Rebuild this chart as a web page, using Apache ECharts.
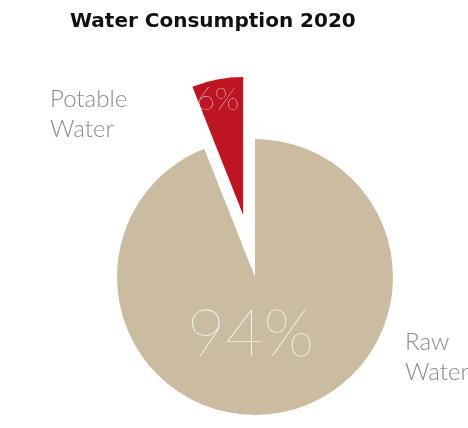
<!DOCTYPE html>
<html>
<head>
<meta charset="utf-8">
<script src="https://cdn.jsdelivr.net/npm/echarts@6/dist/echarts.min.js"></script>
<style>
  html, body { margin: 0; padding: 0; background: #fff; }
  #chart { width: 468px; height: 428px; }
</style>
</head>
<body>
<div id="chart"></div>
<script>
// Water consumption share by type, 2020
const categories = ['Raw Water', 'Potable Water'];
const shares = [94, 6];
const colors = ['#CBBBA0', '#BD1622'];

const CENTER = [255, 277];
const RADIUS = 138;

const chart = echarts.init(document.getElementById('chart'));

const sliceData = categories.map((name, i) => ({
  name: name,
  value: shares[i],
  selected: i === 1,
  itemStyle: { color: colors[i] }
}));

// Positions of the category names beside the pie
const namePos = [
  { x: 405, y: 357, align: 'left' },
  { x: 50, y: 114, align: 'left' }
];
// Nudges for the percentage labels inside the slices
const pctShift = [
  { dx: -18, dy: -13 },
  { dx: -12, dy: -45 }
];

chart.setOption({
  animation: false,
  title: {
    text: 'Water Consumption 2020',
    left: 65,
    top: 7,
    textStyle: {
      fontFamily: 'DejaVu Sans',
      fontWeight: 'bold',
      fontSize: 20,
      color: '#111'
    }
  },
  series: [
    {
      type: 'pie',
      center: CENTER,
      radius: [0, RADIUS],
      startAngle: 90,
      clockwise: true,
      selectedMode: 'single',
      selectedOffset: 63,
      silent: true,
      data: sliceData.map((d, i) => Object.assign({}, d, {
        label: {
          fontSize: i === 0 ? 66 : 32
        }
      })),
      label: {
        show: true,
        position: 'inside',
        formatter: (p) => p.value + '%',
        color: '#fff',
        fontFamily: 'Lato',
        fontWeight: 100
      },
      labelLine: { show: false },
      labelLayout: (p) => pctShift[p.dataIndex]
    },
    {
      // names of the slices, placed beside the pie
      type: 'pie',
      center: CENTER,
      radius: [0, RADIUS],
      startAngle: 90,
      silent: true,
      z: 1,
      data: categories.map((name, i) => ({ name: name, value: shares[i] })),
      itemStyle: { color: 'rgba(0,0,0,0)' },
      label: {
        show: true,
        position: 'outside',
        formatter: (p) => p.name.replace(' ', '\n'),
        color: '#8c8c8c',
        fontFamily: 'Lato',
        fontWeight: 300,
        fontSize: 24,
        lineHeight: 30
      },
      labelLine: { show: false },
      labelLayout: (p) => ({
        x: namePos[p.dataIndex].x,
        y: namePos[p.dataIndex].y,
        align: namePos[p.dataIndex].align,
        verticalAlign: 'middle'
      })
    }
  ]
});
</script>
</body>
</html>
